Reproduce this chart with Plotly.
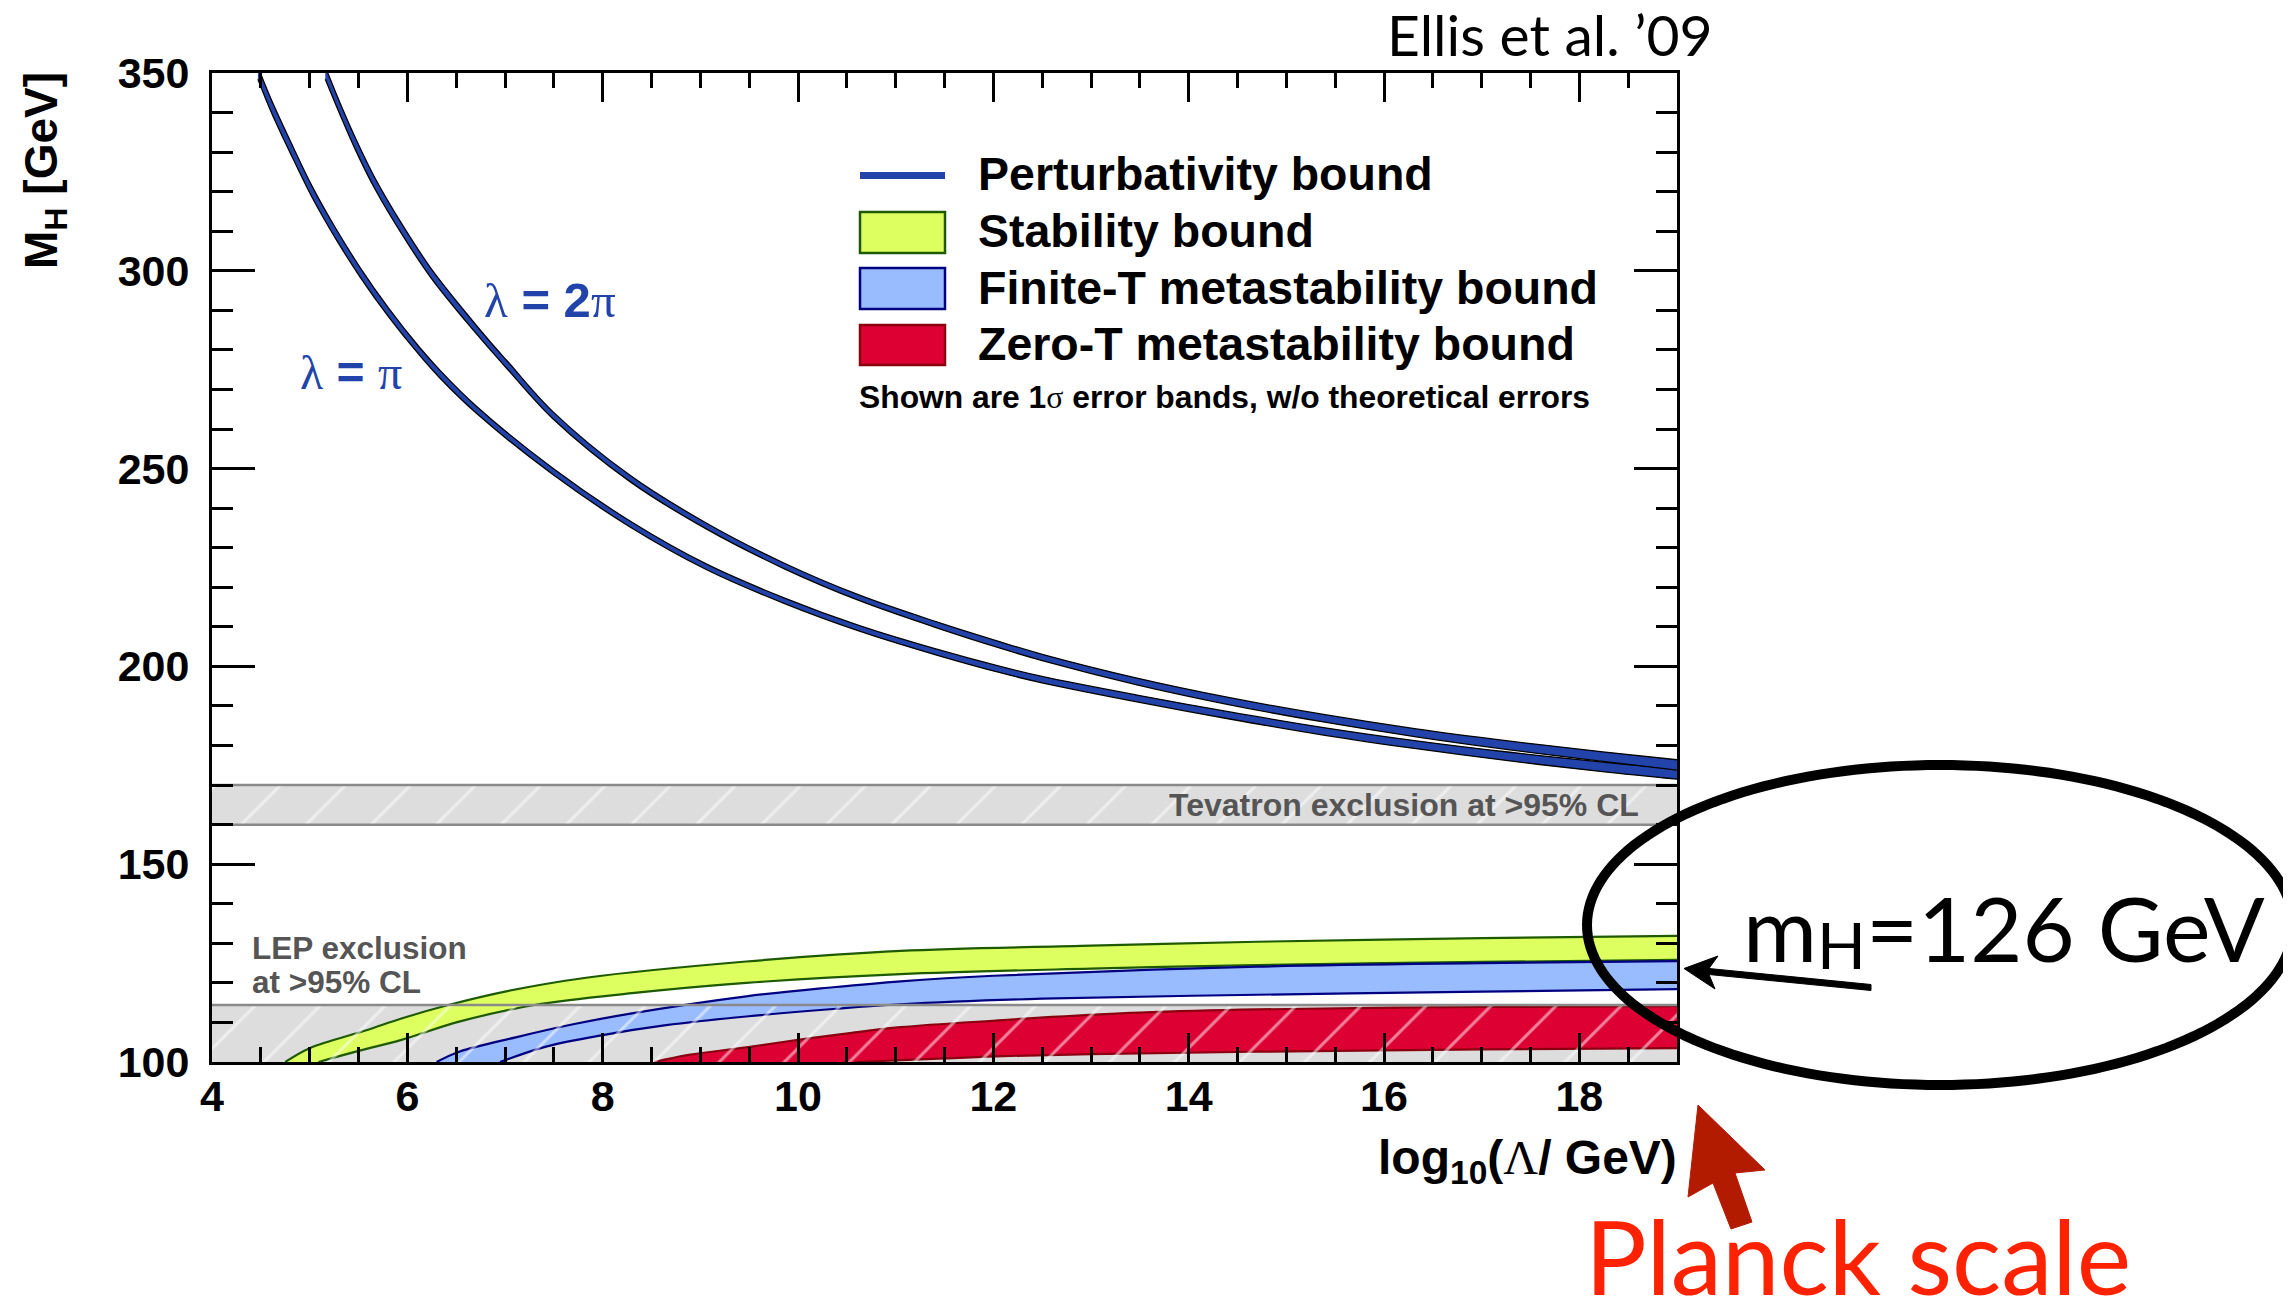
import math
import plotly.graph_objects as go

# ---------------- data ----------------
# Perturbativity bound, lambda = pi (centre line and half width of the 1-sigma band)
pert_pi_x = [4.47, 4.61, 4.84, 5.02, 5.26, 5.52, 5.81, 6.12, 6.34, 6.71, 7.49, 8.28, 9.06,
             9.85, 10.63, 11.42, 12.07, 12.51, 13.47, 14.42, 15.38, 16.33, 17.29, 18.24, 19.0]
pert_pi_y = [350, 341.5, 329.3, 320.2, 309.7, 299.5, 289.4, 279.8, 273.7, 264.8, 249.3, 236.0, 225.2,
             216.7, 209.6, 203.6, 199.2, 196.6, 191.9, 187.6, 183.6, 180.2, 177.2, 174.6, 172.8]
pert_pi_dy = [1.6, 1.6, 1.5, 1.4, 1.3, 1.2, 1.1, 1.0, 1.0, 0.9, 0.8, 0.75, 0.7,
              0.7, 0.7, 0.75, 0.8, 0.8, 0.85, 0.9, 0.95, 1.0, 1.1, 1.2, 1.3]

# Perturbativity bound, lambda = 2 pi
pert_2pi_x = [5.16, 5.31, 5.47, 5.67, 5.95, 6.24, 6.60, 6.85, 7.03, 7.49, 8.28, 9.06, 9.85,
              10.63, 11.42, 12.07, 12.51, 13.47, 14.42, 15.38, 16.33, 17.29, 18.24, 19.0]
pert_2pi_y = [350, 341.0, 332.0, 322.0, 310.3, 299.5, 288.3, 281.0, 276.0, 263.5, 247.5, 235.5, 225.5,
              217.3, 210.5, 205.4, 202.2, 196.2, 191.2, 186.9, 183.2, 180.0, 177.2, 175.1]
pert_2pi_dy = [1.6, 1.5, 1.5, 1.4, 1.3, 1.2, 1.1, 1.0, 1.0, 0.9, 0.8, 0.75, 0.7,
               0.7, 0.75, 0.8, 0.8, 0.85, 0.9, 0.95, 1.0, 1.1, 1.2, 1.3]

# Stability bound band
stab_up_x = [4.75, 5.0, 5.59, 5.94, 6.42, 7.0, 7.83, 9.47, 11.05, 13.0, 14.7, 17.0, 19.0]
stab_up_y = [100, 103.5, 108.1, 111.0, 114.4, 117.8, 121.3, 125.4, 128.1, 129.4, 130.4, 131.3, 131.9]
stab_lo_x = [5.09, 5.5, 5.94, 6.53, 7.3, 8.3, 9.47, 11.05, 13.0, 14.7, 17.0, 19.0]
stab_lo_y = [100, 102.8, 105.6, 110.2, 114.4, 117.4, 120.0, 122.2, 123.6, 124.5, 125.3, 125.8]

# Finite-T metastability band
fin_up_x = [6.30, 6.53, 7.12, 7.71, 8.30, 9.47, 10.36, 11.05, 12.0, 14.7, 17.0, 19.0]
fin_up_y = [100, 102.6, 106.3, 109.6, 112.3, 116.6, 118.9, 120.4, 121.8, 124.1, 125.0, 125.5]
fin_lo_x = [6.95, 7.42, 8.0, 8.65, 9.47, 10.36, 11.05, 12.5, 14.7, 17.0, 19.0]
fin_lo_y = [100, 103.9, 106.8, 109.3, 111.5, 113.4, 114.6, 116.0, 117.0, 117.8, 118.4]

# Zero-T metastability band
zero_up_x = [8.53, 8.88, 9.47, 10.0, 10.53, 11.05, 12.1, 12.6, 13.5, 14.7, 17.0, 19.0]
zero_up_y = [100, 101.8, 103.7, 105.6, 107.3, 108.8, 110.6, 111.4, 112.5, 113.3, 113.9, 114.1]
zero_lo_x = [10.6, 11.5, 12.1, 13.0, 14.7, 17.0, 19.0]
zero_lo_y = [100, 100.9, 101.5, 102.0, 102.6, 103.2, 103.5]

# Experimental exclusions (GeV)
lep_excl = [100, 114.4]
tev_excl = [160, 170]

x_range = [4, 19]
y_range = [100, 350]
x_major = [4, 6, 8, 10, 12, 14, 16, 18]
y_major = [100, 150, 200, 250, 300, 350]

# ---------------- layout geometry (page pixels; the page body has an 8 px margin) ----------------
BODY = 8
WF, HF = 2291 - 2 * BODY, 1305 - 2 * BODY
PL, PR, PT, PB = 212, 1677, 73, 1062   # plot area in page pixels

SANS = "Liberation Sans, Arial, Helvetica, sans-serif"
GILL = "Lato, Open Sans, sans-serif"

C_PERT = "#2244aa"
C_STAB, C_STAB_E = "#ddff60", "#1e5a00"
C_FIN, C_FIN_E = "#99bbff", "#000080"
C_ZERO, C_ZERO_E = "#dd0033", "#8a0010"
C_GREY, C_GREY_E = "#dddddd", "#8a8a8a"


def P(X, Y):
    return (X - PL) / (PR - PL), (PB - Y) / (PB - PT)


fig = go.Figure()


def band(xu, yu, xl, yl, fill, edge, ew):
    fig.add_trace(go.Scatter(x=xl, y=yl, mode="lines", line=dict(color=edge, width=ew, shape="spline"),
                             hoverinfo="skip", showlegend=False))
    fig.add_trace(go.Scatter(x=xu, y=yu, mode="lines", line=dict(color=edge, width=ew, shape="spline"),
                             fill="tonexty", fillcolor=fill, hoverinfo="skip", showlegend=False))


def rect_trace(y0, y1, fillcolor, pattern=None):
    fig.add_trace(go.Scatter(x=[x_range[0], x_range[1], x_range[1], x_range[0], x_range[0]],
                             y=[y0, y0, y1, y1, y0], mode="lines", line=dict(width=0),
                             fill="toself", fillcolor=fillcolor, fillpattern=pattern,
                             hoverinfo="skip", showlegend=False))


def hline(yv, color, width):
    fig.add_trace(go.Scatter(x=x_range, y=[yv, yv], mode="lines", line=dict(color=color, width=width),
                             hoverinfo="skip", showlegend=False))


# grey exclusion backgrounds
rect_trace(lep_excl[0], lep_excl[1], C_GREY)
rect_trace(tev_excl[0], tev_excl[1], C_GREY)

# bound bands
band(stab_up_x, stab_up_y, stab_lo_x, stab_lo_y, C_STAB, C_STAB_E, 2.2)
band(fin_up_x, fin_up_y, fin_lo_x, fin_lo_y, C_FIN, C_FIN_E, 2.2)
band(zero_up_x, zero_up_y, zero_lo_x, zero_lo_y, C_ZERO, C_ZERO_E, 2.2)

# white hatching of the exclusion regions (on top of the bands)
hatch = dict(shape="/", fgcolor="white", bgcolor="rgba(0,0,0,0)", size=46, solidity=0.065)
rect_trace(lep_excl[0], lep_excl[1], "rgba(0,0,0,0)", hatch)
rect_trace(tev_excl[0], tev_excl[1], "rgba(0,0,0,0)", hatch)
hline(lep_excl[1], C_GREY_E, 2.5)
hline(tev_excl[0], C_GREY_E, 2.5)
hline(tev_excl[1], C_GREY_E, 2.5)

# perturbativity bands
for xs, ys, dys in [(pert_pi_x, pert_pi_y, pert_pi_dy), (pert_2pi_x, pert_2pi_y, pert_2pi_dy)]:
    lo = [y - d for y, d in zip(ys, dys)]
    up = [y + d for y, d in zip(ys, dys)]
    band(xs, up, xs, lo, C_PERT, "black", 1.3)

# ---------------- shapes: legend symbols, arrows, ellipse ----------------
shapes = []


def rect_px(x0, y0, x1, y1, fill, line_color=None, lw=0):
    a = P(x0, y0)
    b = P(x1, y1)
    shapes.append(dict(type="rect", xref="paper", yref="paper", x0=a[0], y0=b[1], x1=b[0], y1=a[1],
                       fillcolor=fill, line=dict(color=line_color or fill, width=lw), layer="above"))


rect_px(860, 172, 945, 179, C_PERT)
rect_px(860, 212, 945, 253, C_STAB, C_STAB_E, 2.5)
rect_px(860, 268, 945, 309, C_FIN, C_FIN_E, 2.5)
rect_px(860, 325, 945, 365, C_ZERO, C_ZERO_E, 2.5)


def poly_path(pts):
    s = ""
    for i, (X, Y) in enumerate(pts):
        px, py = P(X, Y)
        s += ("M" if i == 0 else "L") + f"{px:.5f},{py:.5f} "
    return s + "Z"


red_arrow = [(1698, 1105), (1765, 1170), (1735, 1173), (1752, 1222), (1731, 1229), (1713, 1183), (1688, 1197)]
black_arrow = [(1684, 968.5), (1718, 956), (1709, 968.5), (1871, 984.5), (1871, 990.5), (1709, 974.5), (1715, 989)]
shapes.append(dict(type="path", xref="paper", yref="paper", path=poly_path(red_arrow),
                   fillcolor="#b31b00", line=dict(color="#b31b00", width=1), layer="above"))
shapes.append(dict(type="path", xref="paper", yref="paper", path=poly_path(black_arrow),
                   fillcolor="black", line=dict(color="black", width=1), layer="above"))

ell = []
for i in range(181):
    t = 2 * math.pi * i / 180
    ell.append((1940 + 353 * math.cos(t), 925 + 160 * math.sin(t)))
shapes.append(dict(type="path", xref="paper", yref="paper", path=poly_path(ell),
                   fillcolor="rgba(0,0,0,0)", line=dict(color="black", width=10), layer="above"))

# ---------------- annotations ----------------
ann = []


def txt(text, X, Y, size, color="black", family=SANS, weight="bold", xanchor="left",
        yanchor="middle", angle=0):
    px, py = P(X, Y)
    ann.append(dict(text=text, x=px, y=py, xref="paper", yref="paper", showarrow=False,
                    xanchor=xanchor, yanchor=yanchor, textangle=angle,
                    font=dict(family=family, size=size, color=color, weight=weight)))


SER = "<span style=\"font-family:'Liberation Serif';font-weight:normal\">"

txt("Perturbativity bound", 976, 174, 46.5)
txt("Stability bound", 976, 231, 46.5)
txt("Finite-T metastability bound", 976, 288, 46.5)
txt("Zero-T metastability bound", 976, 344, 46.5)
txt("Shown are 1" + SER + "σ</span> error bands, w/o theoretical errors", 857, 397, 31.8)

txt(SER + "λ</span> = 2" + SER + "π</span>", 482, 300, 49, color=C_PERT)
txt(SER + "λ</span> = " + SER + "π</span>", 298, 373, 48, color=C_PERT)

txt("Tevatron exclusion at >95% CL", 1641, 805, 32, color="#555555", xanchor="right")
txt("LEP exclusion", 250, 948, 31.5, color="#555555")
txt("at >95% CL", 250, 982, 31.5, color="#555555")

txt("M<sub>H</sub> [GeV]", 44, 171, 46, angle=-90, xanchor="center")
txt("log<sub>10</sub>(" + SER + "Λ</span>/ GeV)", 1679, 1161, 48, xanchor="right")

txt("Ellis et al. ’09", 1550, 34, 57, family=GILL, weight="normal", xanchor="center")
txt("m<span style='font-size:64px;baseline-shift:-7px'>H</span>=126 GeV", 2004, 928, 90, family=GILL,
    weight="normal", xanchor="center")
txt("Planck scale", 1858, 1255, 103, color="#ff2200", family=GILL, weight="normal", xanchor="center")

# ---------------- axes ----------------
tickfont = dict(family=SANS, size=43, color="black", weight="bold")
fig.update_layout(
    width=WF, height=HF,
    margin=dict(l=PL - BODY, r=WF - (PR - BODY), t=PT - BODY, b=HF - (PB - BODY), pad=0),
    plot_bgcolor="white", paper_bgcolor="white",
    showlegend=False,
    shapes=shapes, annotations=ann,
    xaxis=dict(range=x_range, tickvals=x_major, ticktext=[str(v) for v in x_major],
               ticks="inside", ticklen=29, tickwidth=3, tickcolor="black",
               showline=True, linewidth=3, linecolor="black", mirror="ticks",
               showgrid=False, zeroline=False, tickfont=tickfont, ticklabelstandoff=-6,
               minor=dict(tick0=4, dtick=0.5, ticks="inside", ticklen=15, tickwidth=2.5,
                          tickcolor="black", showgrid=False)),
    yaxis=dict(range=y_range, tickvals=y_major, ticktext=[str(v) for v in y_major],
               ticks="inside", ticklen=43, tickwidth=3, tickcolor="black",
               showline=True, linewidth=3, linecolor="black", mirror="ticks",
               showgrid=False, zeroline=False, tickfont=tickfont, ticklabelstandoff=11,
               minor=dict(tick0=100, dtick=10, ticks="inside", ticklen=21, tickwidth=2.5,
                          tickcolor="black", showgrid=False)),
)

fig.write_html("out.html")
